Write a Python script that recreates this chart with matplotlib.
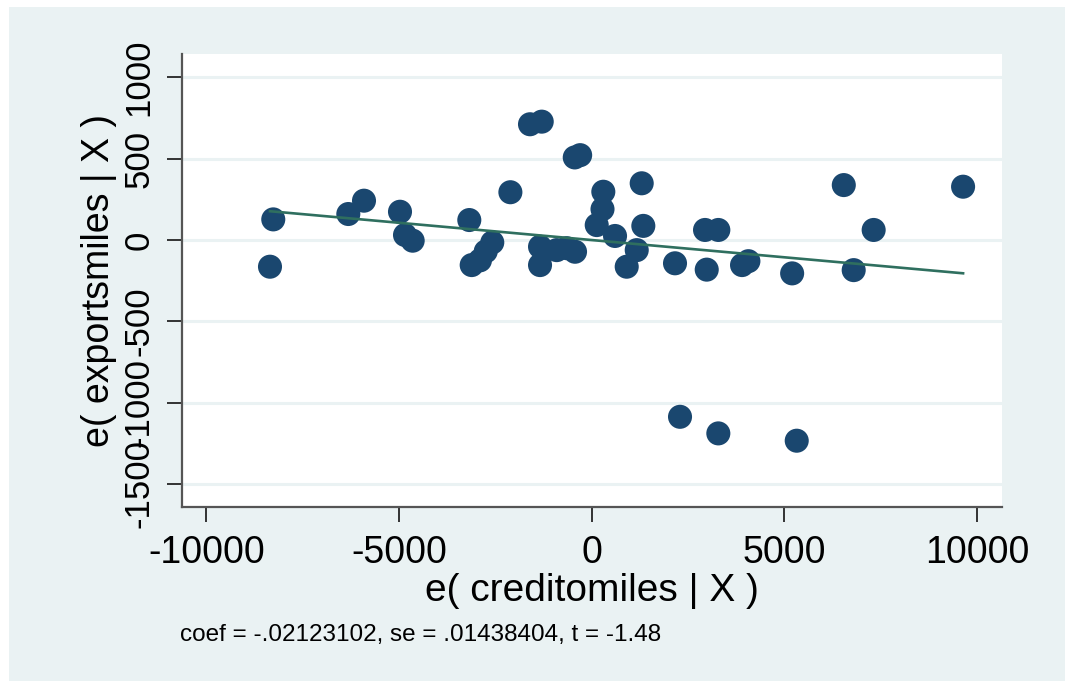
import numpy as np
import matplotlib
matplotlib.use("Agg")
from matplotlib import pyplot as plt
from matplotlib.patches import Rectangle

# residuals
x_resid = [-8262, -8347, -6315, -5908, -4974, -4844, -4645,
           -3176, -3114, -2900, -2750, -2580,
           -2110, -1601, -1297,
           -1341, -1341, -908, -650, -433,
           -440, -300,
           301, 280, 130, 605,
           1297, 1339, 1168, 908,
           2161, 2984, 2940, 3285, 3900, 4065, 5200,
           6540, 7315, 6797, 9635,
           2291, 3285, 5319]
y_resid = [127, -164, 160, 242, 174, 31, -4,
           123, -154, -125, -70, -15,
           294, 712, 728,
           -41, -154, -62, -50, -72,
           508, 522,
           297, 190, 92, 25,
           349, 87, -62, -164,
           -143, -182, 62, 62, -154, -130, -205,
           338, 62, -185, 328,
           -1087, -1189, -1234]

coef = -0.02123102
se = 0.01438404
tstat = -1.48

x_ticks = [-10000, -5000, 0, 5000, 10000]
y_ticks = [-1500, -1000, -500, 0, 500, 1000]

bg = "#eaf2f3"
navy = "#1a476f"
fitcol = "#2f6f5f"
font = ["Liberation Sans", "DejaVu Sans"]
plt.rcParams["font.family"] = font
plt.rcParams["axes.unicode_minus"] = False

fig = plt.figure(figsize=(10.65, 6.81), dpi=100)
fig.patch.set_facecolor("white")
fig.patches.append(Rectangle((9 / 1065, 0), 1, 1 - 7 / 681, transform=fig.transFigure,
                             facecolor=bg, edgecolor="none", zorder=-10))

ax = fig.add_axes([0.1706, 0.2559, 0.7700, 0.6648])
ax.set_facecolor("white")

ax.scatter(x_resid, y_resid, s=300, color=navy, edgecolors="none", zorder=3)

xs = np.array([min(x_resid), max(x_resid)])
ax.plot(xs, coef * xs, color=fitcol, lw=1.9, zorder=4)

ax.set_xlim(-10638, 10638)
ax.set_ylim(-1640, 1144)
ax.set_xticks(x_ticks)
ax.set_yticks(y_ticks)
ax.yaxis.grid(True, color=bg, lw=2.2, zorder=0)
ax.set_axisbelow(True)

for s in ["top", "right"]:
    ax.spines[s].set_visible(False)
for s in ["left", "bottom"]:
    ax.spines[s].set_color("#555555")
    ax.spines[s].set_linewidth(1.6)

ax.tick_params(axis="x", length=11, width=1.4, color="#333333", labelsize=27, pad=9)
ax.tick_params(axis="y", length=11, width=1.4, color="#333333", labelsize=25, pad=8)
for lab in ax.get_yticklabels():
    lab.set_rotation(90)
    lab.set_va("center")

ax.set_xlabel("e( creditomiles | X )", fontsize=28, labelpad=2)
ax.set_ylabel("e( exportsmiles | X )", fontsize=27, labelpad=4)

fig.text(0.169, 0.0675, "coef = %s, se = %s, t = %s" % ("-.02123102", ".01438404", "-1.48"),
         fontsize=17.5, ha="left", va="center")

fig.savefig("out.png", dpi=100)
